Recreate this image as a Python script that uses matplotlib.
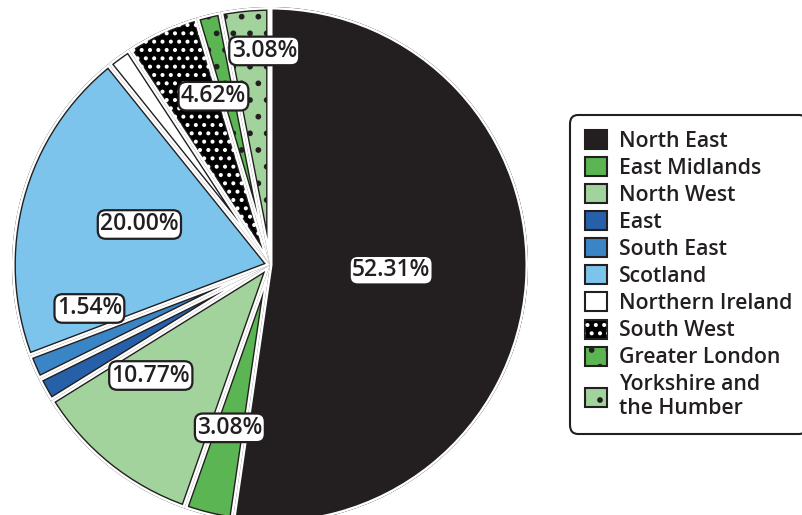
import matplotlib
matplotlib.use("Agg")
import matplotlib.pyplot as plt
from matplotlib.patches import Wedge, Patch
import numpy as np

# ---- data ----
regions = ["North East", "East Midlands", "North West", "East", "South East",
           "Scotland", "Northern Ireland", "South West", "Greater London",
           "Yorkshire and\nthe Humber"]
counts = [34, 2, 7, 1, 1, 13, 1, 3, 1, 2]
show_label = [True, True, True, False, True, True, False, True, False, True]

# ---- style ----
colors = ["#231f20", "#5ab552", "#a3d39c", "#2560a8", "#3a85c6",
          "#7dc4ec", "#ffffff", "#000000", "#5ab552", "#a3d39c"]
hatches = [None] * 7 + ["..", ".", "."]
hatch_white = [False] * 7 + [True, False, False]
label_r = [0.47, 0.65, 0.63, 0.7, 0.72, 0.53, 0.7, 0.69, 0.8, 0.83]
label_dang = [1.7, 0, -8.4, 0, -10, -2, 0, -6.4, 0, -4]

DARK = "#231f20"
plt.rcParams["font.family"] = ["Open Sans", "DejaVu Sans"]
plt.rcParams["hatch.linewidth"] = 1.7

W, H = 803, 515
fig = plt.figure(figsize=(W / 100, H / 100), dpi=100)
ax = fig.add_axes([0, 0, 1, 1])

gap = 3.6      # white gap between wedges (pt)
outline = 1.0  # dark outline width (pt)

total = sum(counts)
wedges, _ = ax.pie(counts, colors=colors, startangle=90, counterclock=False,
                   radius=1.0,
                   wedgeprops=dict(edgecolor=DARK, linewidth=gap + 2 * outline))
for w, h, hw in zip(wedges, hatches, hatch_white):
    w.set_clip_on(True)
    w.set_clip_path(w)
    if h and not hw:
        w.set_hatch(h)
    # white margin inside each wedge -> uniform gaps
    wb = Wedge(w.center, w.r, w.theta1, w.theta2, facecolor="none",
               edgecolor="white", linewidth=gap, zorder=w.get_zorder())
    ax.add_patch(wb)
    wb.set_clip_path(w)
    if h and hw:
        wc = Wedge(w.center, w.r, w.theta1, w.theta2, facecolor="none",
                   edgecolor="white", linewidth=0, hatch=h,
                   zorder=w.get_zorder())
        ax.add_patch(wc)
        wc.set_clip_path(w)

# percentage labels
for w, c, show, r, da in zip(wedges, counts, show_label, label_r, label_dang):
    if not show:
        continue
    ang = np.deg2rad((w.theta1 + w.theta2) / 2 + da)
    ax.text(r * np.cos(ang), r * np.sin(ang), f"{100 * c / total:.2f}%",
            ha="center", va="center", fontsize=16.5, fontweight="semibold",
            color=DARK, zorder=5,
            bbox=dict(boxstyle="round,pad=0.1,rounding_size=0.35",
                      facecolor="white", edgecolor=DARK, linewidth=1.6))

# place the pie: center at pixel (270, 265), radius 258 px
cx, cy, R = 270, 265, 258
ax.set_xlim(-cx / R, (W - cx) / R)
ax.set_ylim(-(H - cy) / R, cy / R)
ax.set_aspect("auto")
ax.axis("off")

# legend
handles = []
for col, h, hw in zip(colors, hatches, hatch_white):
    if h and hw:
        handles.append((Patch(facecolor=col, edgecolor=DARK, linewidth=1.5),
                        Patch(facecolor="none", edgecolor="white",
                              linewidth=0, hatch=h)))
    else:
        handles.append(Patch(facecolor=col, edgecolor=DARK, linewidth=1.5,
                             hatch=h))
leg = fig.legend(handles, regions, loc="upper left",
                 bbox_to_anchor=(570 / W, 1 - 115 / H), borderaxespad=0,
                 prop=dict(size=15.3, weight="semibold"),
                 handlelength=1.05, handleheight=1.0,
                 handletextpad=0.55, labelspacing=0.25, borderpad=0.7,
                 fancybox=True, framealpha=1, edgecolor=DARK)
leg.get_frame().set_linewidth(1.5)
leg.get_frame().set_boxstyle("round,pad=0,rounding_size=0.4")
for t in leg.get_texts():
    t.set_color(DARK)

fig.savefig("out.png", dpi=100)
